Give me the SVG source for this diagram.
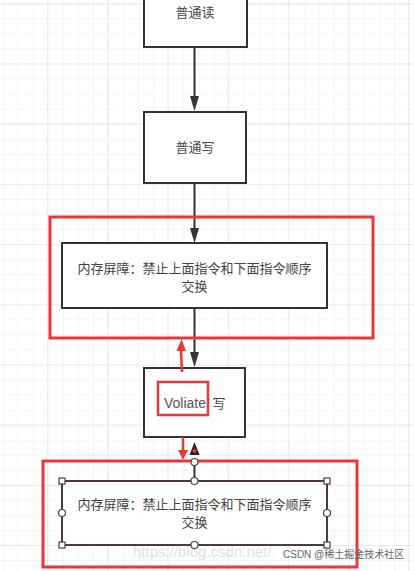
<svg xmlns="http://www.w3.org/2000/svg" width="414" height="571" viewBox="0 0 414 571">
<style>
.box{fill:#fff;stroke:#333;stroke-width:2}
.t{font-family:"Noto Sans CJK SC","Liberation Sans",sans-serif;font-size:13px;fill:#444;text-anchor:middle}
.line{stroke:#333;stroke-width:2;fill:none}
.red{fill:none;stroke:#e8383b;stroke-width:3}
.handle{fill:#fff;stroke:#4d3b3b;stroke-width:1.2}
</style>
<defs>
<pattern id="minor" x="2.7" y="3.3" width="15.05" height="15.05" patternUnits="userSpaceOnUse">
<path d="M0 0H15.05M0 0V15.05" stroke="#ececec" stroke-width="1" fill="none"/>
</pattern>
<pattern id="major" x="47" y="3.3" width="60.2" height="60.2" patternUnits="userSpaceOnUse">
<path d="M0 0H60.2M0 0V60.2" stroke="#dedede" stroke-width="1" fill="none"/>
</pattern>
</defs>
<rect width="414" height="571" fill="#fff"/>
<rect width="414" height="571" fill="url(#minor)"/>
<rect width="414" height="571" fill="url(#major)"/>

<g id="connectors">
<line class="line" x1="194.5" y1="47" x2="194.5" y2="96"/>
<path d="M190 96L199 96L194.5 111Z" fill="#333"/>
<line class="line" x1="194.5" y1="183" x2="194.5" y2="228"/>
<path d="M190 228L199 228L194.5 243Z" fill="#333"/>
<line class="line" x1="194.5" y1="308" x2="194.5" y2="352"/>
<path d="M190 352L199 352L194.5 367Z" fill="#333"/>
<path d="M194.5 442L199.5 455L189.5 455Z" fill="#222"/>
<circle cx="194.5" cy="451" r="2" fill="#e8383b"/>
<line class="line" x1="194.5" y1="462" x2="194.5" y2="481" stroke="#4d3b3b"/>
</g>

<g id="n1">
<rect class="box" x="144" y="-24" width="103" height="71"/>
<text class="t" x="195" y="17">普通读</text>
</g>
<g id="n2">
<rect class="box" x="144" y="112" width="102" height="71"/>
<text class="t" x="195" y="152">普通写</text>
</g>
<g id="n3">
<rect class="box" x="62" y="243" width="265" height="65"/>
<text class="t" x="194.5" y="273">内存屏障：禁止上面指令和下面指令顺序</text>
<text class="t" x="194.5" y="291">交换</text>
</g>
<g id="n4">
<rect class="box" x="144" y="368" width="101" height="69"/>
<text font-family="Liberation Sans, sans-serif" font-size="14" fill="#555" x="164" y="408">Voliate</text>
<text class="t" x="219" y="408" font-size="14">写</text>
<rect x="158" y="382" width="50" height="33" fill="none" stroke="#e8383b" stroke-width="2.5"/>
</g>
<g id="n5">
<rect x="62" y="481" width="265" height="64" fill="#fff" stroke="#4d3b3b" stroke-width="2"/>
<text class="t" x="194.5" y="509">内存屏障：禁止上面指令和下面指令顺序</text>
<text class="t" x="194.5" y="527">交换</text>
<rect class="handle" x="59" y="478" width="6" height="6"/>
<rect class="handle" x="324" y="478" width="6" height="6"/>
<rect class="handle" x="59" y="542" width="6" height="6"/>
<rect class="handle" x="324" y="542" width="6" height="6"/>
<circle class="handle" cx="194.5" cy="481" r="3.5"/>
<circle class="handle" cx="194.5" cy="545" r="3.5"/>
<circle class="handle" cx="62" cy="513" r="3.5"/>
<circle class="handle" cx="327" cy="513" r="3.5"/>
</g>

<g id="highlights">
<rect class="red" x="50" y="217" width="323" height="121"/>
<rect class="red" x="43" y="461" width="314" height="106"/>
<circle class="handle" cx="194.5" cy="462" r="3.5" fill="none"/>
<line x1="182" y1="372" x2="181" y2="350" stroke="#e8383b" stroke-width="2.5"/>
<path d="M176.5 351L186 351L181.5 339Z" fill="#e8383b"/>
<line x1="183" y1="437" x2="183" y2="450" stroke="#e8383b" stroke-width="2.5"/>
<path d="M178 450L188 450L183 460Z" fill="#e8383b"/>
</g>

<g id="watermark">
<text x="133" y="557" font-family="Liberation Sans, sans-serif" font-size="15" fill="#e2e2e2">https://blog.csdn.net/</text>
<text x="283" y="558" font-family="Liberation Sans,'Noto Sans CJK SC',sans-serif" font-size="10" fill="#666">CSDN @稀土掘金技术社区</text>
</g>
</svg>
